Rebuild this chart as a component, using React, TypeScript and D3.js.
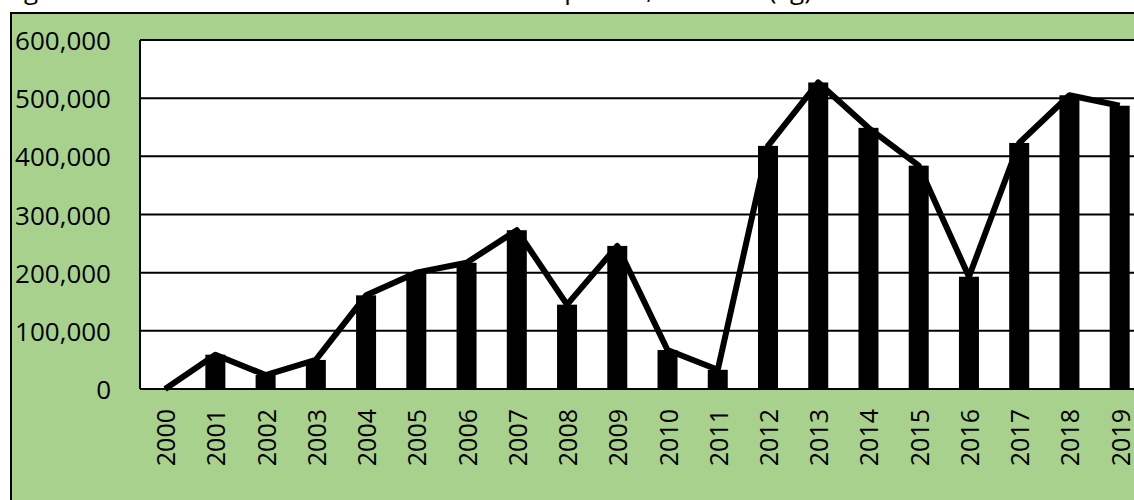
import React from 'react';
import * as d3 from 'd3';

const years = [
  '2000', '2001', '2002', '2003', '2004', '2005', '2006', '2007', '2008', '2009',
  '2010', '2011', '2012', '2013', '2014', '2015', '2016', '2017', '2018', '2019',
];
const quantities = [
  0, 59000, 24000, 50000, 161000, 200000, 217000, 273000, 145000, 246000,
  67000, 33000, 418000, 527000, 449000, 384000, 193000, 423000, 505000, 487000,
];
const yTicks = [0, 100000, 200000, 300000, 400000, 500000, 600000];
const title = 'Figure 1: Total annual volume of raw cotton exported, 2000–19 (kg)';

const App: React.FC = () => {
  const width = 1134;
  const height = 500;
  const plot = { left: 140, top: 40, bandWidth: 50.24, bottom: 389 };
  const plotRight = plot.left + plot.bandWidth * years.length;

  const x = d3.scaleBand().domain(years).range([plot.left, plotRight]).padding(0);
  const y = d3.scaleLinear().domain([0, 600000]).range([plot.bottom, plot.top]);
  const fmt = d3.format(',');
  const barW = 20;

  const line = d3
    .line<number>()
    .x((_, i) => (x(years[i]) || 0) + x.bandwidth() / 2)
    .y((d) => y(d));

  const font = "'Open Sans', 'Liberation Sans', sans-serif";

  return (
    <div style={{ position: 'absolute', left: 0, top: 0, width, height, overflow: 'hidden', background: '#fff' }}>
      <svg width={width} height={height} style={{ display: 'block' }}>
        {/* title sits above the picture, only its descenders show */}
        <text x={4} y={-1} fontFamily={font} fontSize={26} fill="#000">
          {title}
        </text>
        {/* chart area */}
        <rect x={11} y={13} width={width + 20} height={height + 20} fill="#A9D18E" stroke="#000" strokeWidth={2} />
        {/* plot area */}
        <rect x={plot.left} y={plot.top} width={plotRight - plot.left} height={plot.bottom - plot.top} fill="#fff" />
        {yTicks.map((t) => (
          <line key={t} x1={plot.left} x2={plotRight} y1={y(t)} y2={y(t)} stroke="#000" strokeWidth={2} />
        ))}
        <line x1={plot.left} x2={plot.left} y1={plot.top} y2={plot.bottom} stroke="#000" strokeWidth={2} />
        {yTicks.map((t) => (
          <text
            key={'l' + t}
            x={111}
            y={y(t)}
            textAnchor="end"
            dominantBaseline="central"
            fontFamily={font}
            fontSize={26}
            fill="#000"
          >
            {fmt(t)}
          </text>
        ))}
        {quantities.map((v, i) => (
          <rect
            key={years[i]}
            x={(x(years[i]) || 0) + x.bandwidth() / 2 - barW / 2}
            y={y(v)}
            width={barW}
            height={y(0) - y(v)}
            fill="#000"
          />
        ))}
        <path d={line(quantities) || ''} fill="none" stroke="#000" strokeWidth={6} strokeLinejoin="round" />
        {years.map((yr) => {
          const cx = (x(yr) || 0) + x.bandwidth() / 2;
          return (
            <text
              key={'x' + yr}
              transform={`translate(${cx},${409}) rotate(-90)`}
              textAnchor="end"
              dominantBaseline="central"
              fontFamily={font}
              fontSize={25}
              fill="#000"
            >
              {yr}
            </text>
          );
        })}
      </svg>
    </div>
  );
};

export default App;
